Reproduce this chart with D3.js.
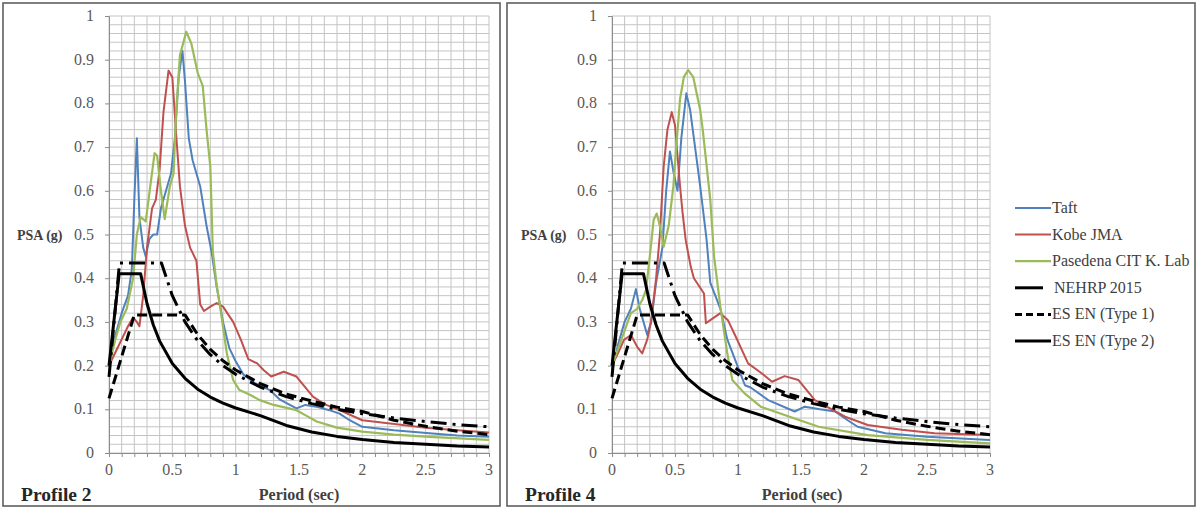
<!DOCTYPE html>
<html>
<head>
<meta charset="utf-8">
<script src="https://cdn.jsdelivr.net/npm/d3@7"></script>
<style>
  html, body { margin: 0; padding: 0; background: #fff; }
  svg { display: block; font-family: "Liberation Serif", "Times New Roman", serif; }
</style>
</head>
<body>
<svg id="chart" width="1198" height="508"></svg>
<script>
// Period axis ticks and PSA axis ticks
const xTickValues = [0, 0.5, 1, 1.5, 2, 2.5, 3];
const xTickLabels = ["0", "0.5", "1", "1.5", "2", "2.5", "3"];
const yTickValues = [0, 0.1, 0.2, 0.3, 0.4, 0.5, 0.6, 0.7, 0.8, 0.9, 1];
const yTickLabels = ["0", "0.1", "0.2", "0.3", "0.4", "0.5", "0.6", "0.7", "0.8", "0.9", "1"];

const seriesNames = ["Taft", "Kobe JMA", "Pasedena CIT K. Lab", "NEHRP 2015", "ES EN (Type 1)", "ES EN (Type 2)"];
const profileNames = ["Profile 2", "Profile 4"];

// Response spectra, [period (sec), PSA (g)] — Profile 2
const taftP2 = [[0,0.2],[0.05,0.27],[0.1,0.32],[0.15,0.36],[0.18,0.42],[0.2,0.58],[0.22,0.72],[0.24,0.54],[0.27,0.47],[0.29,0.45],[0.32,0.49],[0.35,0.5],[0.38,0.5],[0.41,0.56],[0.45,0.6],[0.49,0.64],[0.52,0.72],[0.55,0.86],[0.58,0.92],[0.6,0.85],[0.63,0.72],[0.66,0.67],[0.72,0.61],[0.77,0.52],[0.81,0.46],[0.85,0.38],[0.9,0.3],[0.95,0.24],[1.0,0.21],[1.06,0.18],[1.15,0.16],[1.27,0.144],[1.35,0.122],[1.48,0.102],[1.55,0.11],[1.65,0.105],[1.74,0.098],[1.82,0.09],[1.9,0.075],[2.0,0.06],[2.25,0.052],[2.53,0.045],[2.75,0.04],[3.0,0.037]];
const kobeP2 = [[0,0.2],[0.05,0.23],[0.1,0.26],[0.15,0.29],[0.19,0.31],[0.22,0.3],[0.24,0.29],[0.27,0.36],[0.3,0.47],[0.34,0.56],[0.37,0.58],[0.4,0.65],[0.43,0.78],[0.47,0.875],[0.5,0.86],[0.53,0.73],[0.56,0.61],[0.6,0.52],[0.64,0.47],[0.69,0.44],[0.72,0.34],[0.75,0.325],[0.8,0.335],[0.85,0.343],[0.9,0.335],[0.98,0.3],[1.04,0.26],[1.1,0.215],[1.17,0.205],[1.22,0.19],[1.28,0.175],[1.38,0.186],[1.48,0.175],[1.55,0.15],[1.61,0.129],[1.7,0.112],[1.82,0.098],[2.0,0.075],[2.27,0.066],[2.5,0.058],[2.75,0.052],[3.0,0.047]];
const pasedenaP2 = [[0,0.2],[0.05,0.26],[0.09,0.3],[0.14,0.33],[0.19,0.4],[0.22,0.5],[0.25,0.54],[0.29,0.53],[0.33,0.62],[0.36,0.686],[0.38,0.68],[0.41,0.6],[0.44,0.535],[0.48,0.61],[0.51,0.64],[0.53,0.78],[0.56,0.91],[0.61,0.964],[0.65,0.937],[0.7,0.87],[0.74,0.84],[0.77,0.74],[0.8,0.655],[0.82,0.46],[0.85,0.385],[0.88,0.33],[0.93,0.228],[0.98,0.167],[1.03,0.144],[1.1,0.135],[1.19,0.121],[1.3,0.11],[1.48,0.098],[1.56,0.085],[1.64,0.072],[1.8,0.058],[2.0,0.049],[2.25,0.042],[2.53,0.037],[3.0,0.03]];

// Response spectra — Profile 4
const taftP4 = [[0,0.19],[0.05,0.25],[0.1,0.3],[0.15,0.33],[0.19,0.375],[0.22,0.33],[0.25,0.3],[0.28,0.27],[0.31,0.3],[0.35,0.39],[0.4,0.47],[0.43,0.6],[0.46,0.69],[0.49,0.64],[0.52,0.6],[0.55,0.72],[0.59,0.823],[0.62,0.785],[0.65,0.72],[0.7,0.61],[0.75,0.49],[0.78,0.39],[0.82,0.36],[0.86,0.33],[0.915,0.26],[0.995,0.2],[1.055,0.155],[1.1,0.15],[1.24,0.121],[1.45,0.095],[1.53,0.106],[1.65,0.1],[1.77,0.095],[1.87,0.075],[1.95,0.06],[2.17,0.045],[2.5,0.037],[3.0,0.03]];
const kobeP4 = [[0,0.2],[0.05,0.23],[0.095,0.259],[0.15,0.27],[0.2,0.243],[0.24,0.228],[0.28,0.26],[0.31,0.3],[0.35,0.4],[0.38,0.5],[0.41,0.655],[0.44,0.74],[0.474,0.78],[0.5,0.75],[0.52,0.68],[0.54,0.61],[0.56,0.55],[0.585,0.487],[0.625,0.426],[0.65,0.4],[0.73,0.365],[0.745,0.297],[0.78,0.304],[0.86,0.32],[0.92,0.304],[0.976,0.27],[1.08,0.205],[1.19,0.182],[1.27,0.163],[1.37,0.176],[1.48,0.167],[1.61,0.121],[1.85,0.083],[2.03,0.064],[2.3,0.053],[2.56,0.045],[3.0,0.041]];
const pasedenaP4 = [[0,0.2],[0.05,0.24],[0.1,0.28],[0.15,0.32],[0.2,0.33],[0.24,0.35],[0.27,0.373],[0.3,0.45],[0.33,0.533],[0.355,0.548],[0.38,0.52],[0.41,0.472],[0.45,0.52],[0.487,0.61],[0.51,0.7],[0.54,0.81],[0.57,0.86],[0.605,0.876],[0.645,0.86],[0.7,0.785],[0.72,0.74],[0.75,0.66],[0.78,0.58],[0.81,0.45],[0.86,0.335],[0.915,0.228],[0.955,0.167],[1.05,0.137],[1.18,0.106],[1.37,0.087],[1.64,0.06],[2.03,0.041],[2.5,0.03],[3.0,0.022]];

// Design spectra (same in both profiles)
const nehrp2015 = [[0,0.174],[0.083,0.435],[0.414,0.435],[0.5,0.36],[0.6,0.3],[0.7,0.257],[0.8,0.225],[0.9,0.2],[1.0,0.18],[1.2,0.15],[1.4,0.129],[1.6,0.113],[1.8,0.1],[2.0,0.09],[2.25,0.08],[2.5,0.072],[2.75,0.065],[3.0,0.06]];
const esEnType1 = [[0,0.125],[0.2,0.316],[0.6,0.316],[0.7,0.271],[0.8,0.237],[0.9,0.211],[1.0,0.19],[1.2,0.158],[1.4,0.135],[1.6,0.119],[1.8,0.105],[2.0,0.095],[2.25,0.075],[2.5,0.061],[2.75,0.05],[3.0,0.042]];
const esEnType2 = [[0,0.2],[0.08,0.41],[0.25,0.41],[0.3,0.342],[0.35,0.293],[0.4,0.256],[0.5,0.205],[0.6,0.171],[0.7,0.146],[0.8,0.128],[0.9,0.114],[1.0,0.103],[1.2,0.085],[1.4,0.063],[1.6,0.048],[1.8,0.038],[2.0,0.031],[2.25,0.024],[2.5,0.02],[2.75,0.016],[3.0,0.014]];

// Line styles per series
const styles = [
  { color: "#4F81BD", width: 2, dash: null },
  { color: "#C0504D", width: 2, dash: null },
  { color: "#9BBB59", width: 2.2, dash: null },
  { color: "#000000", width: 3, dash: "16,6,3,6" },
  { color: "#000000", width: 3, dash: "10,5" },
  { color: "#000000", width: 3, dash: null }
];

const svg = d3.select("#chart");

const panels = [
  { box: [3, 3, 497, 503], plot: [109, 489, 453, 16], profile: profileNames[0],
    data: [taftP2, kobeP2, pasedenaP2, nehrp2015, esEnType1, esEnType2] },
  { box: [507, 3, 688, 503], plot: [612, 990, 453, 16], profile: profileNames[1],
    data: [taftP4, kobeP4, pasedenaP4, nehrp2015, esEnType1, esEnType2] }
];

panels.forEach(p => {
  const g = svg.append("g");
  g.append("rect")
    .attr("x", p.box[0]).attr("y", p.box[1])
    .attr("width", p.box[2]).attr("height", p.box[3])
    .attr("fill", "#fff").attr("stroke", "#5f5f5f").attr("stroke-width", 1.6);

  const x = d3.scaleLinear().domain([0, 3]).range([p.plot[0], p.plot[1]]);
  const y = d3.scaleLinear().domain([0, 1]).range([p.plot[2], p.plot[3]]);

  // gridlines: 0.1 s vertically, 0.02 g horizontally
  const xg = d3.range(0, 31).map(i => i / 10);
  const yg = d3.range(0, 51).map(i => i / 50);
  g.append("g").selectAll("line").data(xg).join("line")
    .attr("x1", d => x(d)).attr("x2", d => x(d))
    .attr("y1", y(0)).attr("y2", y(1))
    .attr("stroke", "#c4c4c4").attr("stroke-width", 1);
  g.append("g").selectAll("line").data(yg).join("line")
    .attr("x1", x(0)).attr("x2", x(3))
    .attr("y1", d => y(d)).attr("y2", d => y(d))
    .attr("stroke", "#c4c4c4").attr("stroke-width", 1);

  // axes
  const xAxis = d3.axisBottom(x).tickValues(xg).tickSize(4).tickFormat("");
  const yAxis = d3.axisLeft(y).tickValues(yTickValues).tickSize(4).tickFormat("");
  const gx = g.append("g").attr("transform", `translate(0,${y(0)})`).call(xAxis);
  const gy = g.append("g").attr("transform", `translate(${x(0)},0)`).call(yAxis);
  [gx, gy].forEach(a => {
    a.select(".domain").attr("stroke", "#8c8c8c");
    a.selectAll(".tick line").attr("stroke", "#8c8c8c");
  });

  g.append("g").selectAll("text").data(xTickValues).join("text")
    .attr("x", d => x(d)).attr("y", y(0) + 22)
    .attr("text-anchor", "middle").attr("font-size", 16).attr("fill", "#595959")
    .text((d, i) => xTickLabels[i]);
  g.append("g").selectAll("text").data(yTickValues).join("text")
    .attr("x", x(0) - 15).attr("y", d => y(d) + 5)
    .attr("text-anchor", "end").attr("font-size", 16).attr("fill", "#595959")
    .text((d, i) => yTickLabels[i]);

  g.append("text").attr("x", p.box[0] + 14).attr("y", y(0.5) + 5)
    .attr("font-size", 14).attr("font-weight", "bold").attr("fill", "#404040")
    .text("PSA (g)");
  g.append("text").attr("x", p.plot[0] + 190).attr("y", 500)
    .attr("text-anchor", "middle").attr("font-size", 16).attr("font-weight", "bold").attr("fill", "#404040")
    .text("Period (sec)");
  g.append("text").attr("x", p.box[0] + 18).attr("y", 501)
    .attr("font-size", 19.5).attr("font-weight", "bold").attr("fill", "#262626")
    .text(p.profile);

  const line = d3.line().x(d => x(d[0])).y(d => y(d[1]));
  p.data.forEach((s, i) => {
    const st = styles[i];
    g.append("path").datum(s)
      .attr("d", line)
      .attr("fill", "none")
      .attr("stroke", st.color)
      .attr("stroke-width", st.width)
      .attr("stroke-dasharray", st.dash)
      .attr("stroke-linejoin", "round");
  });
});

// Legend
const lg = svg.append("g");
const legendY = d3.scalePoint().domain(seriesNames).range([208, 341]);
seriesNames.forEach((name, i) => {
  const st = styles[i];
  const yy = legendY(name);
  const x2 = i === 3 ? 1043 : 1051;
  lg.append("line").attr("x1", 1015).attr("x2", x2).attr("y1", yy).attr("y2", yy)
    .attr("stroke", st.color).attr("stroke-width", st.width)
    .attr("stroke-dasharray", i === 4 ? "7,4" : null);
  lg.append("text").attr("x", i === 3 ? 1054 : 1052).attr("y", yy + 5)
    .attr("font-size", 16).attr("fill", "#404040").text(name);
});
</script>
</body>
</html>
